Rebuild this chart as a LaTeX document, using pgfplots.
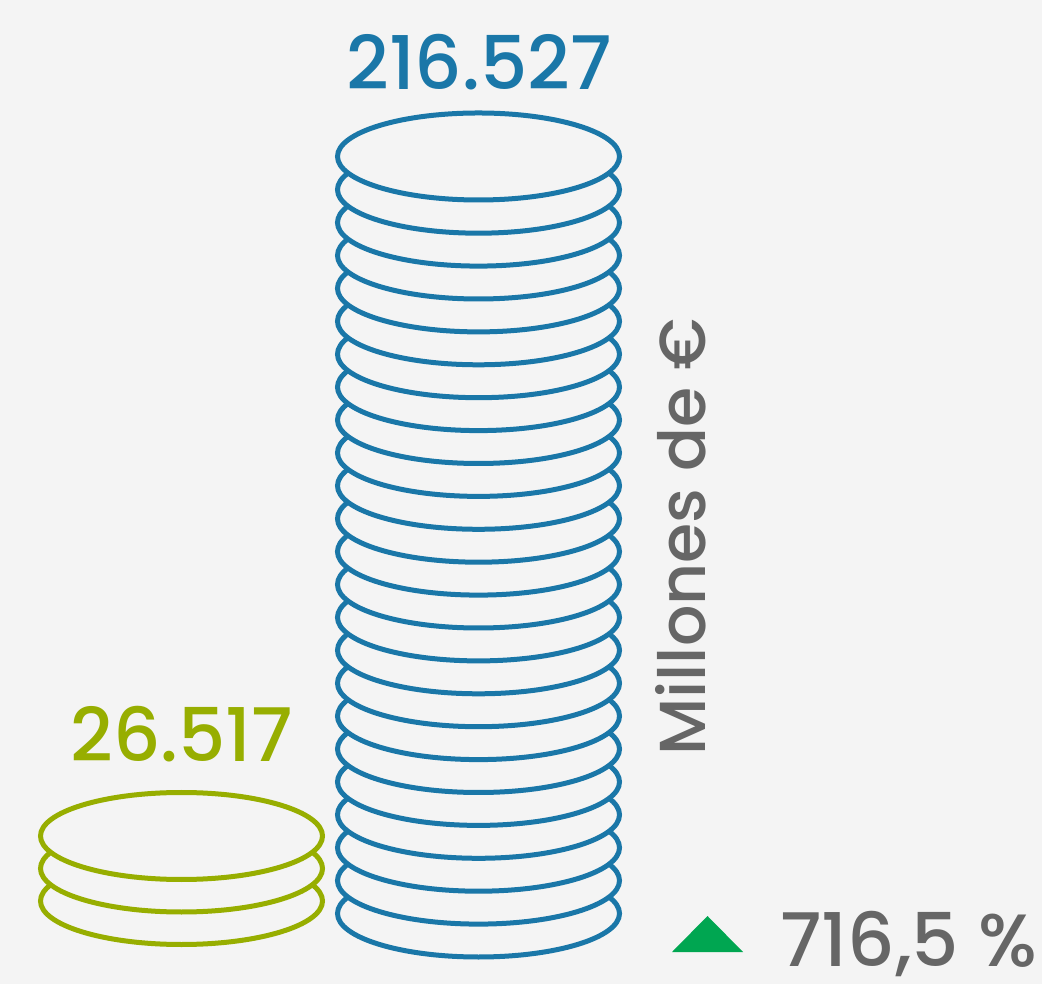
\documentclass[border=0pt]{standalone}
\usepackage{pgfplots}
\pgfplotsset{compat=1.18}
\usepackage{fontspec}
\setmainfont{Poppins}
\newfontfamily\med{Poppins Medium}
\definecolor{bg}{HTML}{F4F4F4}
\definecolor{cblue}{HTML}{1A77A8}
\definecolor{cgreen}{HTML}{97AE00}
\definecolor{cgrey}{HTML}{666666}
\definecolor{cup}{HTML}{00A651}
\pgfdeclareplotmark{coin}{%
  \pgfpathellipse{\pgfpointorigin}{\pgfqpoint{70.5pt}{0pt}}{\pgfqpoint{0pt}{21.75pt}}%
  \pgfusepathqfillstroke}
\begin{document}
\begin{tikzpicture}
\begin{axis}[
  x=0.5pt, y=0.5pt,
  xmin=0, xmax=1042, ymin=0, ymax=984,
  hide axis, clip=false,
]
\fill[bg] (axis cs:0,0) rectangle (axis cs:1042,984);
% green stack: 26.517 (3 coins)
\addplot[only marks, mark=coin, mark options={draw=cgreen, fill=bg, line width=2.5pt}]
  coordinates {(181.5,83) (181.5,115.5) (181.5,148)};
% blue stack: 216.527 (24 coins)
\addplot[only marks, mark=coin, mark options={draw=cblue, fill=bg, line width=2.5pt}]
  coordinates {
  (478.5,70.5) (478.5,103.4) (478.5,136.3) (478.5,169.2) (478.5,202.1) (478.5,235.0)
  (478.5,267.9) (478.5,300.8) (478.5,333.7) (478.5,366.6) (478.5,399.5) (478.5,432.4)
  (478.5,465.3) (478.5,498.2) (478.5,531.1) (478.5,564.0) (478.5,596.9) (478.5,629.8)
  (478.5,662.7) (478.5,695.6) (478.5,728.5) (478.5,761.4) (478.5,794.3) (478.5,827.5)};
\node[text=cgreen, font=\med\fontsize{37}{40}\selectfont, anchor=base] at (axis cs:182,222) {26.517};
\node[text=cblue, font=\med\fontsize{37}{40}\selectfont, anchor=base] at (axis cs:479,894) {216.527};
\node[text=cgrey, font=\med\fontsize{32.5}{36}\selectfont, rotate=90, anchor=base] at (axis cs:705,447) {Millones de €};
\fill[cup] (axis cs:672,32) -- (axis cs:743,32) -- (axis cs:707.5,68) -- cycle;
\node[text=cgrey, font=\med\fontsize{37}{40}\selectfont, anchor=base west, inner sep=0pt] at (axis cs:780,18) {716,5 \%};
\end{axis}
\end{tikzpicture}
\end{document}
